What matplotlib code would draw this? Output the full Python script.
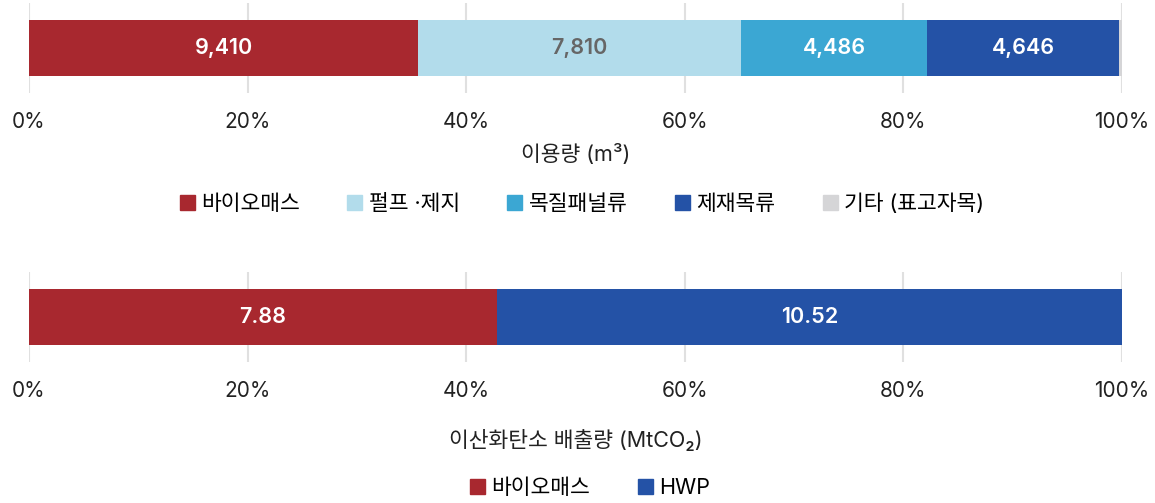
import matplotlib
matplotlib.use("Agg")
import matplotlib.pyplot as plt
from matplotlib.patches import Patch
from matplotlib.ticker import PercentFormatter

plt.rcParams['font.family'] = ['Inter', 'Noto Sans CJK KR', 'DejaVu Sans']

use_labels = ['바이오매스', '펄프 ·제지', '목질패널류', '제재목류', '기타 (표고자목)']
use_values = [9410, 7810, 4486, 4646, 70]
use_colors = ['#A8282F', '#B2DCEB', '#3BA7D3', '#2452A6', '#D5D5D7']
use_text = ['9,410', '7,810', '4,486', '4,646', '']
use_text_colors = ['white', '#666666', 'white', 'white', 'white']

co2_labels = ['바이오매스', 'HWP']
co2_values = [7.88, 10.52]
co2_colors = ['#A8282F', '#2452A6']
co2_text = ['7.88', '10.52']

W, H = 1155, 503
fig = plt.figure(figsize=(W / 100, H / 100), dpi=100)


def px_axes(x0, y0, x1, y1):
    return fig.add_axes([x0 / W, 1 - y1 / H, (x1 - x0) / W, (y1 - y0) / H])


def stacked(ax, values, colors, texts, text_colors, xlabel):
    total = sum(values)
    left = 0
    for v, c, t, tc in zip(values, colors, texts, text_colors):
        frac = v / total * 100
        ax.barh(0, frac, left=left, height=0.62, color=c, zorder=3)
        if t:
            ax.text(left + frac / 2, 0, t, ha='center', va='center',
                    color=tc, fontsize=15.5, fontweight='semibold', zorder=4)
        left += frac
    ax.set_xlim(0, 100)
    ax.set_ylim(-0.5, 0.5)
    ax.set_xticks([0, 20, 40, 60, 80, 100])
    ax.xaxis.set_major_formatter(PercentFormatter(decimals=0))
    ax.set_yticks([])
    ax.grid(axis='x', color='#E0E0E0', linewidth=1.5, zorder=0)
    for s in ax.spines.values():
        s.set_visible(False)
    ax.tick_params(axis='x', length=0, pad=14, labelsize=15, labelcolor='#222222')
    ax.set_xlabel(xlabel, fontsize=15.5, color='#222222', labelpad=8)


ax1 = px_axes(29, 3, 1122, 93)
stacked(ax1, use_values, use_colors, use_text, use_text_colors, '이용량 (m³)')

ax2 = px_axes(29, 272, 1122, 362)
stacked(ax2, co2_values, co2_colors, co2_text, ['white', 'white'], '이산화탄소 배출량 (MtCO₂)')
ax2.xaxis.labelpad = 20

h1 = [Patch(color=c) for c in use_colors]
fig.legend(h1, use_labels, loc='center', bbox_to_anchor=(582 / W, 1 - 204 / H),
           ncol=5, frameon=False, fontsize=15.5, handlelength=0.7, handleheight=0.7,
           handletextpad=0.3, columnspacing=2.2)

h2 = [Patch(color=c) for c in co2_colors]
fig.legend(h2, co2_labels, loc='center', bbox_to_anchor=(590 / W, 1 - 488 / H),
           ncol=2, frameon=False, fontsize=15.5, handlelength=0.7, handleheight=0.7,
           handletextpad=0.3, columnspacing=2.2)

fig.savefig('out.png', dpi=100)
